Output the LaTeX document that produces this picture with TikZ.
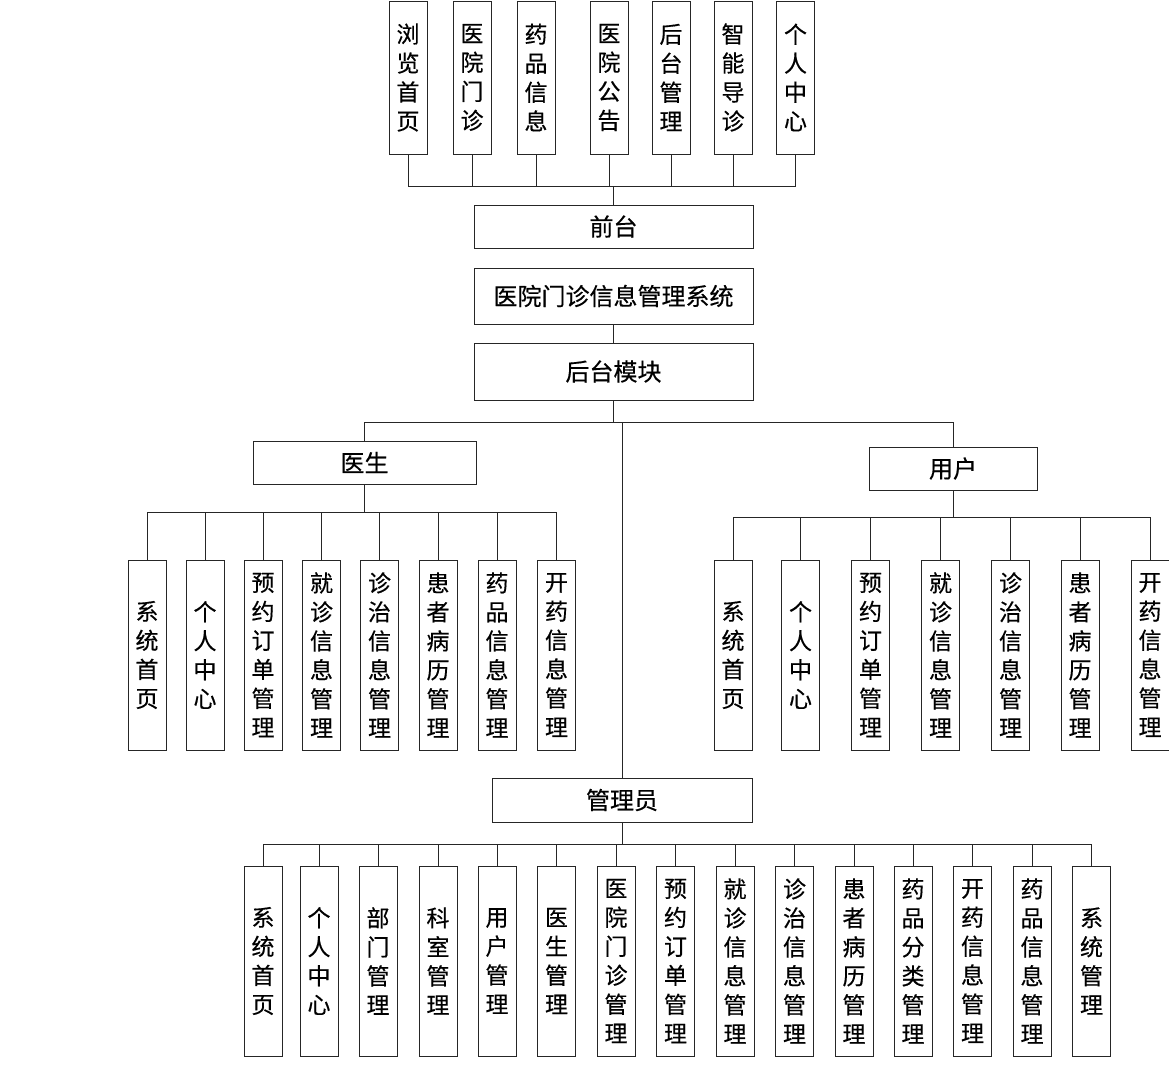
\documentclass[tikz,border=0pt]{standalone}
\usepackage{fontspec}
\newfontfamily\cjk[FakeBold=0.4]{Noto Sans CJK SC}
\begin{document}
\begin{tikzpicture}[x=1pt,y=-1pt,
  box/.style={draw=black!85,line width=0.9pt,fill=white,inner sep=0pt,align=center,
    font=\cjk\fontsize{23}{29}\selectfont},
  hbox/.style={box,font=\cjk\fontsize{24}{29}\selectfont},
  vbox/.style={box,minimum width=38pt,minimum height=190pt},
  tbox/.style={box,minimum width=38pt,minimum height=153pt},
  wire/.style={draw=black!85,line width=0.9pt}]
\useasboundingbox (0,0) rectangle (1169,1071);
\fill[white] (0,0) rectangle (1169,1071);

% top row
\node[tbox] (t1) at (408,77.5) {浏\\览\\首\\页};
\node[tbox] (t2) at (472,77.5) {医\\院\\门\\诊};
\node[tbox] (t3) at (536,77.5) {药\\品\\信\\息};
\node[tbox] (t4) at (609,77.5) {医\\院\\公\\告};
\node[tbox] (t5) at (671,77.5) {后\\台\\管\\理};
\node[tbox] (t6) at (733,77.5) {智\\能\\导\\诊};
\node[tbox] (t7) at (795.5,77.5) {个\\人\\中\\心};

\node[hbox,minimum width=279pt,minimum height=43pt] (qt) at (613.5,226.5) {前台};
\node[hbox,minimum width=279pt,minimum height=56pt] (sys) at (613.5,296) {医院门诊信息管理系统};
\node[hbox,minimum width=279pt,minimum height=57pt] (hb) at (613.5,371.5) {后台模块};

\node[hbox,minimum width=223pt,minimum height=43pt] (doc) at (364.5,462.5) {医生};
\node[hbox,minimum width=168pt,minimum height=43pt] (usr) at (953,468.5) {用户};
\node[hbox,minimum width=260pt,minimum height=44pt] (adm) at (622,800) {管理员};

% doctor children
\node[vbox] (d1) at (147,655) {系\\统\\首\\页};
\node[vbox] (d2) at (205,655) {个\\人\\中\\心};
\node[vbox] (d3) at (263,655) {预\\约\\订\\单\\管\\理};
\node[vbox] (d4) at (321.5,655) {就\\诊\\信\\息\\管\\理};
\node[vbox] (d5) at (379.5,655) {诊\\治\\信\\息\\管\\理};
\node[vbox] (d6) at (438,655) {患\\者\\病\\历\\管\\理};
\node[vbox] (d7) at (497,655) {药\\品\\信\\息\\管\\理};
\node[vbox] (d8) at (556.5,655) {开\\药\\信\\息\\管\\理};

% user children
\node[vbox] (u1) at (733,655) {系\\统\\首\\页};
\node[vbox] (u2) at (800.5,655) {个\\人\\中\\心};
\node[vbox] (u3) at (870.5,655) {预\\约\\订\\单\\管\\理};
\node[vbox] (u4) at (940.5,655) {就\\诊\\信\\息\\管\\理};
\node[vbox] (u5) at (1010.5,655) {诊\\治\\信\\息\\管\\理};
\node[vbox] (u6) at (1080,655) {患\\者\\病\\历\\管\\理};
\node[vbox] (u7) at (1150,655) {开\\药\\信\\息\\管\\理};

% admin children
\node[vbox] (a1) at (263,961) {系\\统\\首\\页};
\node[vbox] (a2) at (319,961) {个\\人\\中\\心};
\node[vbox] (a3) at (378,961) {部\\门\\管\\理};
\node[vbox] (a4) at (438,961) {科\\室\\管\\理};
\node[vbox] (a5) at (497,961) {用\\户\\管\\理};
\node[vbox] (a6) at (556.5,961) {医\\生\\管\\理};
\node[vbox] (a7) at (616,961) {医\\院\\门\\诊\\管\\理};
\node[vbox] (a8) at (675.5,961) {预\\约\\订\\单\\管\\理};
\node[vbox] (a9) at (735,961) {就\\诊\\信\\息\\管\\理};
\node[vbox] (a10) at (794.5,961) {诊\\治\\信\\息\\管\\理};
\node[vbox] (a11) at (854,961) {患\\者\\病\\历\\管\\理};
\node[vbox] (a12) at (913,961) {药\\品\\分\\类\\管\\理};
\node[vbox] (a13) at (972.5,961) {开\\药\\信\\息\\管\\理};
\node[vbox] (a14) at (1032,961) {药\\品\\信\\息\\管\\理};
\node[vbox] (a15) at (1091.5,961) {系\\统\\管\\理};

% bus coordinates
\coordinate (busT) at (613.5,186);
\coordinate (busB) at (613.5,422);
\coordinate (busD) at (364.5,512);
\coordinate (busU) at (953,517);
\coordinate (busA) at (622,844);

% connectors
\foreach \n in {t1,t2,t3,t4,t5,t6,t7} \draw[wire] (\n.south) |- (busT);
\draw[wire] (busT) -- (qt.north);
\draw[wire] (sys.south) -- (hb.north);
\draw[wire] (hb.south) -- (busB);
\draw[wire] (busB) -| (doc.north);
\draw[wire] (busB) -| (usr.north);
\draw[wire] (busB) -| (adm.north);

\draw[wire] (doc.south) -- (busD);
\foreach \n in {d1,d2,d3,d4,d5,d6,d7,d8} \draw[wire] (busD) -| (\n.north);
\draw[wire] (usr.south) -- (busU);
\foreach \n in {u1,u2,u3,u4,u5,u6,u7} \draw[wire] (busU) -| (\n.north);
\draw[wire] (adm.south) -- (busA);
\foreach \n in {a1,a2,a3,a4,a5,a6,a7,a8,a9,a10,a11,a12,a13,a14,a15} \draw[wire] (busA) -| (\n.north);
\end{tikzpicture}
\end{document}
